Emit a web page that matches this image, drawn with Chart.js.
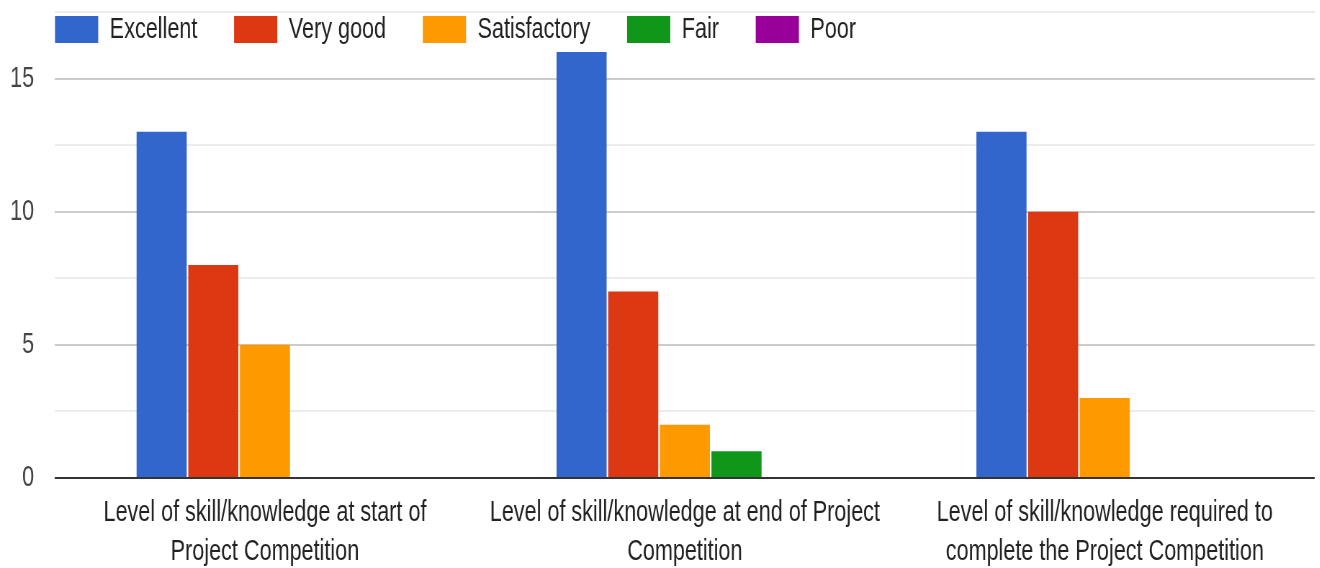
<!DOCTYPE html>
<html>
<head>
<meta charset="utf-8">
<script src="https://cdn.jsdelivr.net/npm/chart.js@4/dist/chart.umd.min.js"></script>
<style>
  html, body { margin: 0; padding: 0; background: #fff; overflow: hidden; }
  /* the reference is squeezed sideways, so draw wide and squeeze it back */
  #wrap { width: 1834px; height: 568px; transform: scaleX(0.72); transform-origin: 0 0; }
</style>
</head>
<body>
<div id="wrap"><canvas id="chart"></canvas></div>
<script>
const categories = [
  ["Level of skill/knowledge at start of", "Project Competition"],
  ["Level of skill/knowledge at end of Project", "Competition"],
  ["Level of skill/knowledge required to", "complete the Project Competition"]
];
const seriesNames = ["Excellent", "Very good", "Satisfactory", "Fair", "Poor"];
const seriesColors = ["#3366cc", "#dc3912", "#ff9900", "#109618", "#990099"];
const excellent = [13, 16, 13];
const veryGood = [8, 7, 10];
const satisfactory = [5, 2, 3];
const fair = [0, 1, 0];
const poor = [0, 0, 0];
const yTicks = [0, 5, 10, 15];

const FONT = "'Liberation Sans', Arial, sans-serif";
const Y_PAD = 29;
const X_PAD = 7;

// legend drawn by hand, Google Forms style (inside the plot, top left)
const topLegend = {
  id: 'topLegend',
  afterDraw(chart) {
    const ctx = chart.ctx;
    let x = chart.chartArea.left;
    ctx.save();
    ctx.font = '30px ' + FONT;
    ctx.textBaseline = 'middle';
    ctx.textAlign = 'left';
    chart.data.datasets.forEach(ds => {
      ctx.fillStyle = ds.backgroundColor;
      ctx.fillRect(x, 16, 60, 27);
      ctx.fillStyle = '#222';
      ctx.fillText(ds.label, x + 76, 30);
      x += 76 + ctx.measureText(ds.label).width + 51;
    });
    ctx.restore();
  }
};

const values = [excellent, veryGood, satisfactory, fair, poor];

new Chart(document.getElementById('chart'), {
  type: 'bar',
  data: {
    labels: categories,
    datasets: seriesNames.map((name, i) => ({
      label: name,
      data: values[i],
      backgroundColor: seriesColors[i],
      categoryPercentage: 0.615,
      barPercentage: 0.97
    }))
  },
  options: {
    responsive: true,
    maintainAspectRatio: false,
    animation: false,
    devicePixelRatio: 1,
    layout: { padding: { top: 12, left: 14, right: 8, bottom: 0 } },
    plugins: { legend: { display: false }, tooltip: { enabled: false } },
    scales: {
      x: {
        grid: { display: false },
        border: { display: false },
        ticks: {
          font: { family: FONT, size: 30, lineHeight: 1.3 },
          color: '#222',
          padding: X_PAD,
          maxRotation: 0,
          autoSkip: false
        },
        // Chart.js reserves more room under the plot than the reference has
        afterFit: s => { s.height -= 10; }
      },
      y: {
        min: 0,
        max: 17.5,
        border: { display: false },
        grid: {
          drawTicks: false,
          color: c => c.tick.value === 0 ? '#333' : (yTicks.includes(c.tick.value) ? '#cccccc' : '#ececec'),
          lineWidth: 2
        },
        ticks: {
          stepSize: 2.5,
          padding: Y_PAD,
          font: { family: FONT, size: 30 },
          color: '#444',
          callback: v => yTicks.includes(v) ? v : ''
        },
        afterFit: s => { s.width -= Y_PAD; s.paddingTop = 0; s.paddingBottom = 0; }
      }
    }
  },
  plugins: [topLegend]
});
</script>
</body>
</html>
